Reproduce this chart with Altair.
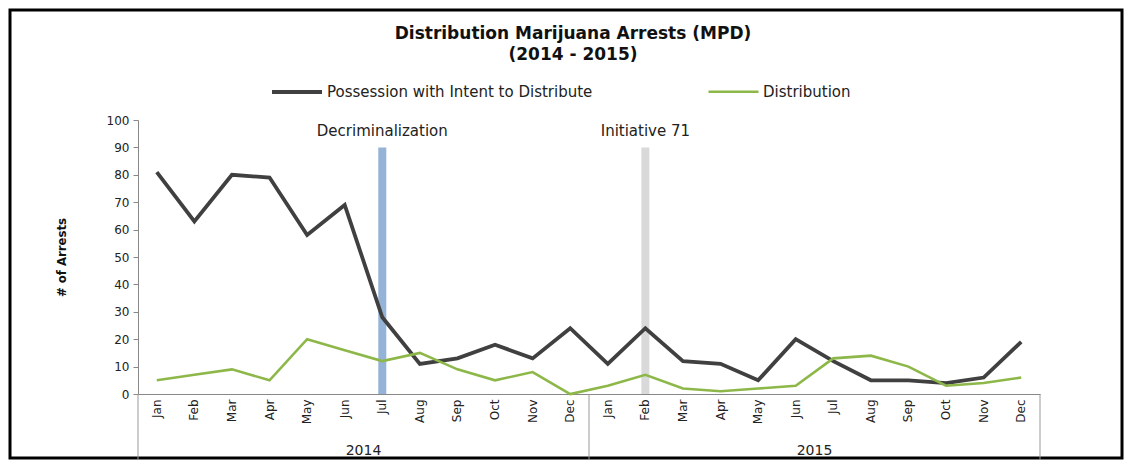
import altair as alt
import pandas as pd

title_lines = ["Distribution Marijuana Arrests (MPD)", "(2014 - 2015)"]
months = ["Jan", "Feb", "Mar", "Apr", "May", "Jun", "Jul", "Aug", "Sep", "Oct", "Nov", "Dec"]
years = ["2014", "2015"]
possession = [81, 63, 80, 79, 58, 69, 28, 11, 13, 18, 13, 24,
              11, 24, 12, 11, 5, 20, 12, 5, 5, 4, 6, 19]
distribution = [5, 7, 9, 5, 20, 16, 12, 15, 9, 5, 8, 0,
                3, 7, 2, 1, 2, 3, 13, 14, 10, 3, 4, 6]
series_names = ["Possession with Intent to Distribute", "Distribution"]
series_colors = ["#404040", "#8DB849"]
event_labels = ["Decriminalization", "Initiative 71"]
event_months = ["Jul 2014", "Feb 2015"]
event_top = [90, 90]
event_colors = ["#95B3D7", "#D9D9D9"]
y_ticks = [0, 10, 20, 30, 40, 50, 60, 70, 80, 90, 100]

labels = [f"{m} {y}" for y in years for m in months]

rows = []
for i, lab in enumerate(labels):
    rows.append({"label": lab, "idx": i, "series": series_names[0], "value": possession[i]})
    rows.append({"label": lab, "idx": i, "series": series_names[1], "value": distribution[i]})
lines_df = pd.DataFrame(rows)
events_df = pd.DataFrame({"label": event_months, "event": event_labels, "top": event_top})
years_df = pd.DataFrame({"label": [f"Jun {y}" for y in years], "year": years})

W, H = 902, 274
FONT = "DejaVu Sans"

xscale = alt.Scale(domain=labels, type="band", paddingInner=0, paddingOuter=0)
xaxis = alt.Axis(title=None, labelAngle=-90, labelExpr="split(datum.label, ' ')[0]",
                 labelFontSize=12, labelFont=FONT, labelColor="#222", ticks=False,
                 domainColor="#888", labelPadding=5)


def X(**kw):
    return alt.X("label:O", scale=xscale, axis=xaxis, sort=labels, **kw)


yscale = alt.Scale(domain=[0, 100], nice=False)
yaxis = alt.Axis(values=y_ticks, title="# of Arrests", grid=False,
                 tickSize=5, tickColor="#888", domainColor="#888", labelOverlap=False,
                 labelFont=FONT, labelFontSize=12, labelColor="#222", labelPadding=4,
                 titleFont="DejaVu Sans Condensed", titleFontSize=13,
                 titleFontWeight="bold", titlePadding=38, titleColor="#111")

frame = alt.Chart(alt.Data(values=[{}])).mark_rect(
    filled=False, stroke="black", strokeWidth=3
).encode(x=alt.value(-128), x2=alt.value(984), y=alt.value(-110), y2=alt.value(338))

title = alt.Chart(alt.Data(values=[{}])).mark_text(
    text=title_lines, font=FONT, fontSize=17, fontWeight="bold", color="#111",
    lineHeight=21, baseline="top", align="center"
).encode(x=alt.value(W / 2 - 16), y=alt.value(-94))

bars = alt.Chart(events_df).mark_bar(size=8).encode(
    x=X(),
    y=alt.Y("top:Q", scale=yscale, axis=yaxis),
    fill=alt.Fill("event:N", scale=alt.Scale(domain=event_labels, range=event_colors), legend=None),
)

event_text = alt.Chart(events_df).mark_text(
    font=FONT, fontSize=15, color="#222", baseline="middle"
).encode(x=X(), y=alt.value(11), text="event:N")

lines = alt.Chart(lines_df).mark_line().encode(
    x=X(),
    y=alt.Y("value:Q", scale=yscale, axis=yaxis),
    stroke=alt.Stroke("series:N", scale=alt.Scale(domain=series_names, range=series_colors),
                      legend=alt.Legend(title=None, orient="none", legendX=132, legendY=-55,
                                        direction="horizontal", symbolType="stroke",
                                        symbolSize=2500, symbolStrokeWidth=3.5,
                                        labelFont=FONT, labelFontSize=15, labelColor="#222",
                                        labelLimit=500, columnPadding=110, labelOffset=3)),
    strokeWidth=alt.StrokeWidth("series:N", scale=alt.Scale(domain=series_names, range=[3.8, 2.6]),
                                legend=None),
    order=alt.Order("idx:Q"),
)

year_text = alt.Chart(years_df).mark_text(
    font=FONT, fontSize=14, color="#222", baseline="middle"
).encode(x=X(bandPosition=1), y=alt.value(H + 57), text="year:N")

sep_left = alt.Chart(pd.DataFrame({"label": ["Jan 2014"]})).mark_rule(
    color="#999", strokeWidth=1
).encode(x=X(bandPosition=0), y=alt.value(H), y2=alt.value(H + 66))

sep_right = alt.Chart(pd.DataFrame({"label": ["Dec 2014", "Dec 2015"]})).mark_rule(
    color="#999", strokeWidth=1
).encode(x=X(bandPosition=1), y=alt.value(H), y2=alt.value(H + 66))

chart = alt.layer(frame, title, bars, event_text, lines, year_text, sep_left, sep_right).properties(
    width=W, height=H,
    autosize=alt.AutoSizeParams(type="none"),
    padding={"left": 130, "top": 112, "right": 84, "bottom": 68},
    background="white",
).configure_view(stroke=None)

chart.save("out.html", embed_options={"renderer": "svg", "actions": False})
